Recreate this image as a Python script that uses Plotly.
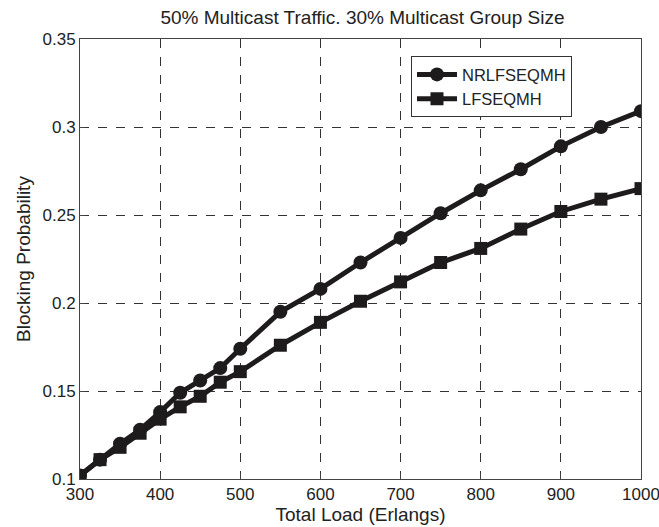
import plotly.graph_objects as go

load = [300, 325, 350, 375, 400, 425, 450, 475, 500, 550, 600, 650, 700, 750, 800, 850, 900, 950, 1000]
nrlfseqmh = [0.102, 0.111, 0.120, 0.128, 0.138, 0.149, 0.156, 0.163, 0.174, 0.195, 0.208, 0.223, 0.237, 0.251, 0.264, 0.276, 0.289, 0.300, 0.309]
lfseqmh = [0.102, 0.111, 0.118, 0.126, 0.134, 0.141, 0.147, 0.155, 0.161, 0.176, 0.189, 0.201, 0.212, 0.223, 0.231, 0.242, 0.252, 0.259, 0.265]
x_ticks = [300, 400, 500, 600, 700, 800, 900, 1000]
y_ticks = [0.1, 0.15, 0.2, 0.25, 0.3, 0.35]
y_tick_labels = ["0.1", "0.15", "0.2", "0.25", "0.3", "0.35"]

col = "#1e1b1c"
fig = go.Figure()
fig.add_trace(go.Scatter(x=load, y=nrlfseqmh, name="NRLFSEQMH", mode="lines+markers",
                         line=dict(color=col, width=5),
                         marker=dict(symbol="circle", size=14, color=col)))
fig.add_trace(go.Scatter(x=load, y=lfseqmh, name="LFSEQMH", mode="lines+markers",
                         line=dict(color=col, width=5),
                         marker=dict(symbol="square", size=13, color=col)))

font = dict(family="Liberation Sans, Arial, sans-serif", size=17, color="#222")
fig.update_layout(
    width=659, height=527,
    margin=dict(l=80, r=18, t=39, b=48, autoexpand=False),
    paper_bgcolor="white", plot_bgcolor="white",
    font=font,
    title=dict(text="50% Multicast Traffic. 30% Multicast Group Size", x=0.55, xanchor="center",
               y=0.968, yanchor="middle", font=dict(size=19, color="#222")),
    legend=dict(x=0.59, y=0.961, xanchor="left", yanchor="top",
                bgcolor="white", bordercolor="#333", borderwidth=1,
                font=dict(size=16.5), tracegroupgap=0, itemwidth=40),
    showlegend=True,
)
fig.update_xaxes(range=[300, 1000], tickvals=x_ticks, showgrid=True, automargin=False,
                 gridcolor="#333", griddash="dash", gridwidth=1,
                 showline=True, linecolor="#444", linewidth=1, mirror=True,
                 ticks="inside", ticklen=5, tickcolor="#444", ticklabeloverflow="allow",
                 title=dict(text="Total Load (Erlangs)", standoff=0, font=dict(size=19)), zeroline=False)
fig.update_yaxes(range=[0.1, 0.35], tickvals=y_ticks, ticktext=y_tick_labels, showgrid=True, automargin=False,
                 gridcolor="#333", griddash="dash", gridwidth=1,
                 showline=True, linecolor="#444", linewidth=1, mirror=True,
                 ticks="inside", ticklen=5, tickcolor="#444", ticklabeloverflow="allow",
                 title=dict(text="Blocking Probability", standoff=6, font=dict(size=19)), zeroline=False)
fig.write_html("out.html", config={"displayModeBar": False},
               post_script="document.body.style.margin='0';document.body.style.overflow='hidden';")
